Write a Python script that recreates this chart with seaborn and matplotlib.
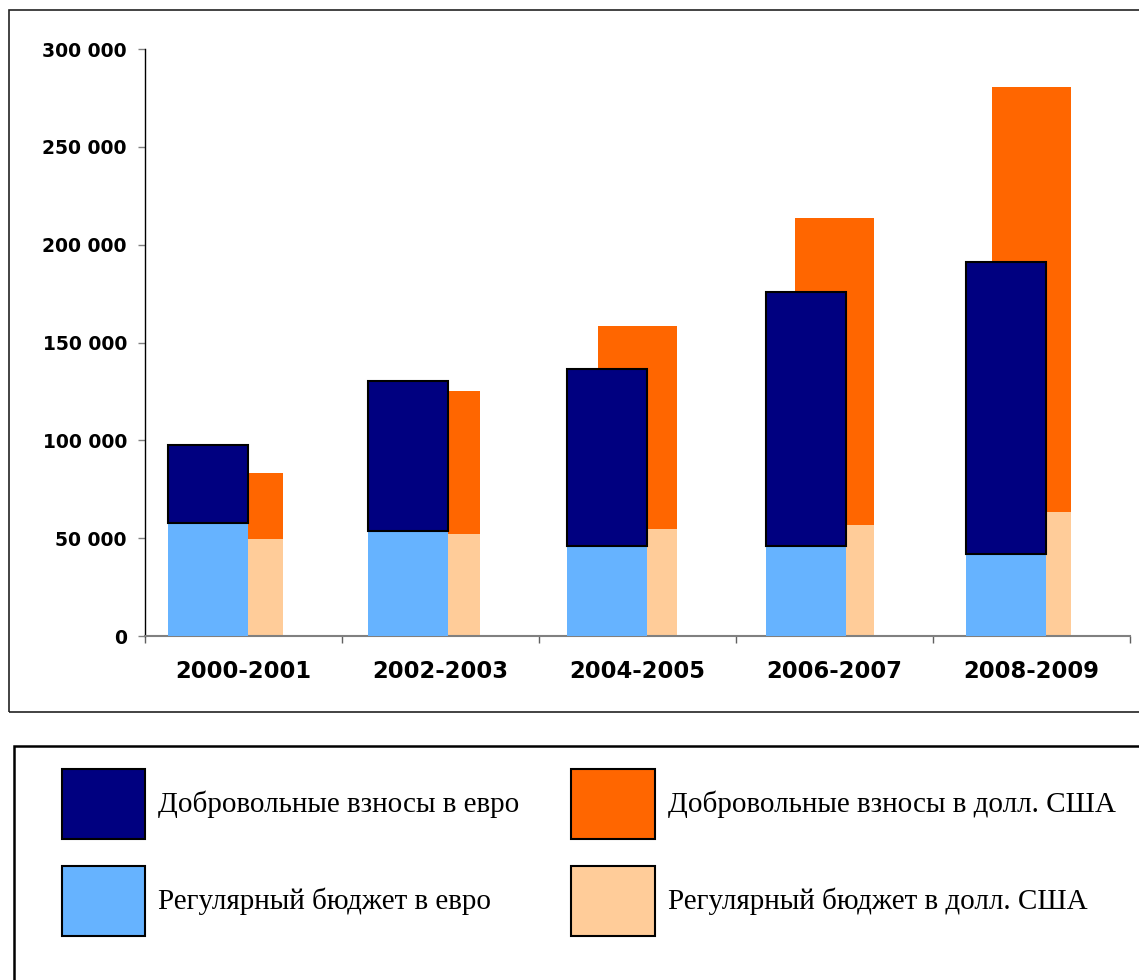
import pandas as pd
import seaborn as sns
import matplotlib.pyplot as plt
from matplotlib.patches import Patch, Rectangle

# periods
periods = ["2000-2001", "2002-2003", "2004-2005", "2006-2007", "2008-2009"]

# euro
euro_regular = [58000, 53500, 46000, 46000, 42000]
euro_voluntary = [39700, 76700, 90700, 129600, 148900]

# US dollars
usd_regular = [49500, 52100, 54600, 56700, 63400]
usd_voluntary = [33700, 72900, 103600, 156700, 217400]

labels = ["Добровольные взносы в евро", "Регулярный бюджет в евро",
          "Добровольные взносы в долл. США", "Регулярный бюджет в долл. США"]
colors = ["#000080", "#66B3FF", "#FF6600", "#FFCC99"]

df = pd.DataFrame({
    "period": periods,
    "euro_regular": euro_regular,
    "euro_voluntary": euro_voluntary,
    "usd_regular": usd_regular,
    "usd_voluntary": usd_voluntary,
})

sns.set_theme(style="white")
plt.rcParams["font.family"] = ["DejaVu Sans"]
plt.rcParams["text.color"] = "black"

W, H = 1139, 980
fig = plt.figure(figsize=(W / 100, H / 100), dpi=100)
ax = fig.add_axes([145 / W, 1 - 636 / H, 985 / W, 587 / H])
ax2 = ax.twiny()  # euro bars sit on a slightly different x scale (as in Excel)

# dollar bars (behind)
sns.barplot(data=df, x="period", y="usd_regular", color=colors[3], saturation=1,
            width=0.406, errorbar=None, linewidth=0, ax=ax)
sns.barplot(data=df, x="period", y="usd_voluntary", bottom=df["usd_regular"].values,
            color=colors[2], saturation=1, width=0.406, errorbar=None, linewidth=0, ax=ax)

# euro bars (front)
sns.barplot(data=df, x="period", y="euro_regular", color=colors[1], saturation=1,
            width=0.401, errorbar=None, linewidth=0, ax=ax2)
sns.barplot(data=df, x="period", y="euro_voluntary", bottom=df["euro_regular"].values,
            color=colors[0], saturation=1, width=0.401, errorbar=None,
            edgecolor="black", linewidth=1.5, ax=ax2)

ax.set_xlim(-0.5, 4.5)
ax2.set_xlim(-0.316, 4.622)
ax.set_ylim(0, 300000)

yt = list(range(0, 300001, 50000))
ax.set_yticks(yt, [f"{v:,}".replace(",", " ") for v in yt])
ax.set_xticks([i - 0.5 for i in range(6)], [""] * 6)
ax.set_xticks(range(len(periods)), periods, minor=True)

ax.tick_params(axis="y", left=True, direction="out", length=5, width=1,
               color="#808080", pad=8, labelsize=13.5, labelcolor="black")
for t in ax.get_yticklabels():
    t.set_fontweight("bold")
ax.tick_params(axis="x", which="major", bottom=True, direction="out", length=5,
               width=1, color="#606060")
ax.tick_params(axis="x", which="minor", bottom=True, length=0, pad=17.5,
               labelsize=16.3, labelcolor="black")
for t in ax.get_xticklabels(minor=True):
    t.set_fontweight("bold")

ax.set_xlabel("")
ax.set_ylabel("")
ax2.set_xlabel("")
ax2.set_ylabel("")
ax2.set_xticks([])
ax2.tick_params(top=False, labeltop=False)

for s in ["top", "right"]:
    ax.spines[s].set_visible(False)
ax.spines["left"].set_color("black")
ax.spines["left"].set_linewidth(1)
ax.spines["bottom"].set_color("#808080")
ax.spines["bottom"].set_linewidth(1.5)
for s in ax2.spines.values():
    s.set_visible(False)

# frame around the chart and around the legend
fig.patches.append(Rectangle((9 / W, 1 - 712 / H), (1150 - 9) / W, (712 - 10) / H,
                             transform=fig.transFigure, fill=False,
                             edgecolor="#222222", linewidth=1.2))
fig.patches.append(Rectangle((13.5 / W, -0.05), 1.1, (1 - 745.5 / H) + 0.05,
                             transform=fig.transFigure, fill=False,
                             edgecolor="black", linewidth=1.8))

handles = [Patch(facecolor=c, edgecolor="black", linewidth=1.5) for c in colors]
fig.legend(handles, labels, loc="upper left", bbox_to_anchor=(62 / W, 1 - 769 / H),
           ncol=2, frameon=False, prop={"family": "Liberation Serif", "size": 21},
           labelcolor="black",
           handlelength=2.85, handleheight=3.3, handletextpad=0.45,
           columnspacing=1.78, labelspacing=0.93, borderpad=0, borderaxespad=0)

fig.savefig("out.png", dpi=100)
